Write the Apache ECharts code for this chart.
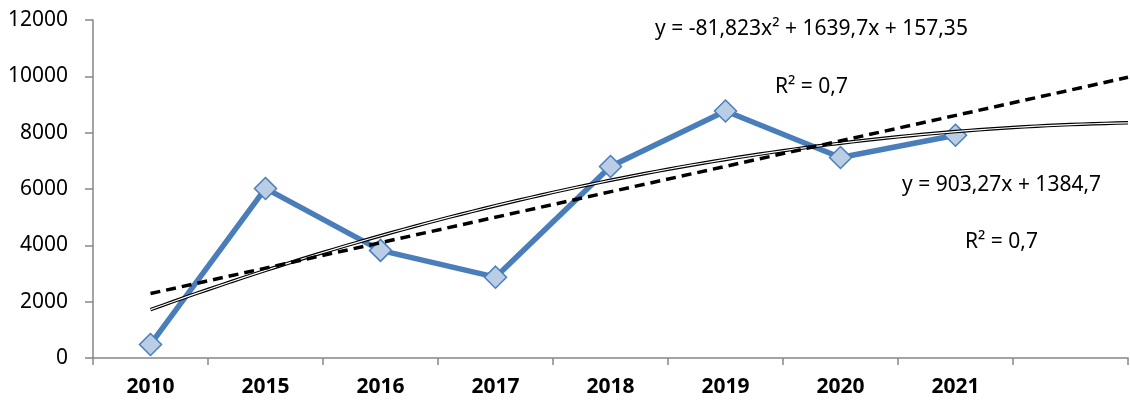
<!DOCTYPE html>
<html>
<head>
<meta charset="utf-8">
<script src="https://cdn.jsdelivr.net/npm/echarts@6/dist/echarts.min.js"></script>
<style>
  html, body { margin: 0; padding: 0; background: #fff; }
  #chart { width: 1130px; height: 400px; }
</style>
</head>
<body>
<div id="chart"></div>
<script>
  // years on the axis, last slot is the forecast gap
  var years = ["2010", "2015", "2016", "2017", "2018", "2019", "2020", "2021", ""]
  var values = [480, 6020, 3820, 2870, 6800, 8770, 7120, 7910]
  var yTicks = [0, 2000, 4000, 6000, 8000, 10000, 12000]

  // trendline coefficients as printed on the chart (x = 1, 2, ...)
  var linCoef = [903.27, 1384.7]
  var polyCoef = [-81.823, 1639.7, 157.35]
  var trendRange = [1, 9.5]

  var eqPoly = "y = -81,823x² + 1639,7x + 157,35"
  var eqLin = "y = 903,27x + 1384,7"
  var r2Text = "R² = 0,7"

  function polyLine() {
    var res = []
    for (var x = trendRange[0]; x <= trendRange[1] + 1e-9; x += 0.1) {
      res.push([x, polyCoef[0] * x * x + polyCoef[1] * x + polyCoef[2]])
    }
    return res
  }
  function linLine() {
    return trendRange.map(function (x) {
      return [x, linCoef[0] * x + linCoef[1]]
    })
  }

  var font = "Noto Sans"
  var fs = 21
  var myChart = echarts.init(document.getElementById("chart"))
  myChart.setOption({
    animation: false,
    grid: { left: 93, right: 2, top: 20, bottom: 42 },
    xAxis: [
      {
        type: "category",
        data: years,
        boundaryGap: true,
        axisLine: { lineStyle: { color: "#868686", width: 1.5 } },
        axisTick: { show: true, length: 7, lineStyle: { color: "#868686", width: 1.5 } },
        axisLabel: { color: "#000", fontFamily: font, fontWeight: "bold", fontSize: fs, margin: 19 }
      },
      {
        type: "value",
        min: 0.5,
        max: 9.5,
        show: false
      }
    ],
    yAxis: {
      type: "value",
      min: yTicks[0],
      max: yTicks[yTicks.length - 1],
      interval: yTicks[1] - yTicks[0],
      splitLine: { show: false },
      axisLine: { show: true, lineStyle: { color: "#868686", width: 1.5 } },
      axisTick: { show: true, length: 8, lineStyle: { color: "#868686", width: 1.5 } },
      axisLabel: {
        color: "#000", fontFamily: font, fontSize: fs, margin: 25,
        formatter: function (v) { return String(v) }
      }
    },
    series: [
      {
        name: "data",
        type: "line",
        xAxisIndex: 0,
        data: values,
        z: 2,
        lineStyle: { color: "#4A7EBB", width: 5.5 },
        symbol: "diamond",
        symbolSize: 22,
        itemStyle: { color: "#B9CDE5", borderColor: "#4A7EBB", borderWidth: 1.5 }
      },
      {
        name: "poly-outer",
        type: "line",
        xAxisIndex: 1,
        data: polyLine(),
        showSymbol: false,
        z: 3,
        lineStyle: { color: "#000", width: 3.5 }
      },
      {
        name: "poly-inner",
        type: "line",
        xAxisIndex: 1,
        data: polyLine(),
        showSymbol: false,
        z: 4,
        lineStyle: { color: "#fff", width: 1.2 }
      },
      {
        name: "linear",
        type: "line",
        xAxisIndex: 1,
        data: linLine(),
        showSymbol: false,
        z: 5,
        lineStyle: { color: "#000", width: 3.5, type: [10, 6] }
      }
    ],
    graphic: [
      { type: "text", left: 655, top: 19, style: { text: eqPoly, font: fs + "px " + font, fill: "#000" } },
      { type: "text", left: 775, top: 77, style: { text: r2Text, font: fs + "px " + font, fill: "#000" } },
      { type: "text", left: 902, top: 175, style: { text: eqLin, font: fs + "px " + font, fill: "#000" } },
      { type: "text", left: 965, top: 232, style: { text: r2Text, font: fs + "px " + font, fill: "#000" } }
    ]
  })
</script>
</body>
</html>
